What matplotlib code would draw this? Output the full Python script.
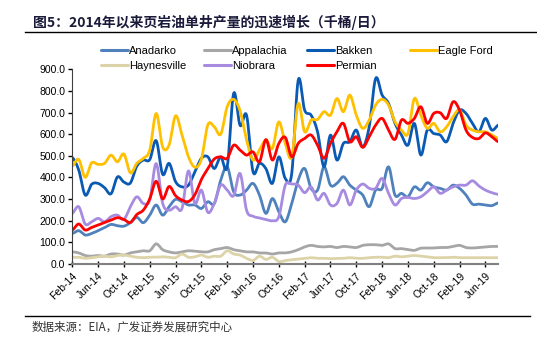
import numpy as np
import matplotlib
matplotlib.use("Agg")
import matplotlib.pyplot as plt
from matplotlib.lines import Line2D

plt.rcParams['font.family'] = ['Liberation Sans', 'Noto Sans CJK SC', 'DejaVu Sans']

# monthly, Feb-14 .. Aug-19 (千桶/日)
anadarko = [140, 153, 133, 140, 153, 167, 182, 176, 174, 190, 215, 190, 225, 272, 225, 264, 298,
            287, 272, 272, 256, 287, 279, 387, 449, 333, 318, 341, 372, 318, 233, 302, 241, 194,
            279, 387, 441, 349, 341, 449, 364, 372, 403, 364, 341, 318, 264, 341, 349, 449, 318,
            326, 310, 356, 341, 375, 356, 349, 341, 364, 349, 318, 276, 276, 272, 269, 282]
appalachia = [55, 50, 38, 35, 38, 35, 45, 45, 40, 50, 55, 60, 60, 92, 65, 55, 50, 55, 60, 58, 55,
              55, 65, 70, 75, 65, 60, 55, 55, 50, 50, 45, 50, 50, 55, 65, 78, 85, 80, 78, 80, 75,
              80, 78, 75, 85, 88, 88, 85, 92, 70, 70, 65, 62, 72, 72, 73, 75, 75, 80, 85, 75, 73,
              75, 78, 80, 80]
bakken = [492, 434, 318, 368, 372, 352, 324, 402, 378, 374, 452, 480, 482, 570, 414, 465, 380,
          356, 364, 426, 488, 495, 441, 495, 449, 789, 640, 688, 426, 465, 440, 372, 495, 395,
          418, 850, 711, 688, 611, 449, 596, 480, 557, 565, 619, 541, 634, 858, 781, 742, 650,
          596, 549, 650, 503, 619, 603, 596, 565, 650, 711, 696, 650, 611, 673, 619, 642]
eagle_ford = [452, 483, 400, 467, 460, 465, 503, 472, 508, 421, 465, 488, 526, 696, 541, 550, 685,
              596, 495, 447, 484, 643, 634, 600, 727, 761, 708, 573, 480, 527, 573, 534, 657, 557,
              495, 742, 611, 665, 668, 704, 688, 765, 704, 781, 688, 627, 665, 735, 761, 735, 657,
              619, 603, 765, 688, 627, 650, 611, 634, 681, 711, 642, 619, 611, 611, 596, 580]
haynesville = [30, 30, 25, 28, 32, 35, 32, 38, 40, 35, 30, 28, 30, 30, 32, 30, 28, 45, 30, 32, 40,
               30, 35, 35, 60, 45, 40, 25, 15, 35, 20, 30, 10, 15, 18, 22, 25, 28, 25, 25, 23, 25,
               25, 28, 25, 25, 28, 30, 30, 28, 35, 32, 35, 38, 35, 32, 28, 28, 28, 30, 28, 28, 28,
               28, 28, 28, 28]
niobrara = [233, 264, 184, 194, 210, 194, 218, 225, 205, 264, 310, 279, 295, 464, 280, 248, 264,
            256, 430, 279, 341, 238, 279, 364, 341, 315, 418, 248, 220, 212, 205, 199, 218, 364,
            369, 364, 329, 356, 295, 326, 272, 279, 341, 272, 341, 369, 349, 349, 395, 326, 272,
            302, 307, 302, 310, 333, 356, 326, 341, 356, 364, 364, 384, 360, 341, 329, 321]
permian = [156, 184, 156, 168, 179, 191, 202, 213, 205, 191, 228, 248, 300, 382, 300, 358, 315,
           295, 288, 320, 390, 440, 485, 495, 488, 549, 526, 503, 518, 472, 575, 480, 557, 585,
           495, 557, 580, 596, 549, 488, 557, 611, 650, 565, 588, 539, 588, 642, 673, 619, 576,
           665, 650, 673, 727, 650, 696, 699, 673, 750, 711, 619, 585, 580, 606, 588, 565]

tick_labels = ['Feb-14', 'Jun-14', 'Oct-14', 'Feb-15', 'Jun-15', 'Oct-15', 'Feb-16', 'Jun-16',
               'Oct-16', 'Feb-17', 'Jun-17', 'Oct-17', 'Feb-18', 'Jun-18', 'Oct-18', 'Feb-19',
               'Jun-19']

series = [
    ('Anadarko', anadarko, '#4F81BD'),
    ('Appalachia', appalachia, '#A6A6A6'),
    ('Bakken', bakken, '#0A5AB4'),
    ('Eagle Ford', eagle_ford, '#FFC000'),
    ('Haynesville', haynesville, '#DDD3A8'),
    ('Niobrara', niobrara, '#A78BE0'),
    ('Permian', permian, '#FF0000'),
]


def smooth(y, n=10):
    # catmull-rom, roughly what excel's "smoothed line" does
    y = np.asarray(y, float)
    p = np.concatenate([[y[0]], y, [y[-1]]])
    t = np.linspace(0, 1, n, endpoint=False)
    xs, ys = [], []
    for i in range(len(y) - 1):
        p0, p1, p2, p3 = p[i], p[i + 1], p[i + 2], p[i + 3]
        v = 0.5 * (2 * p1 + (-p0 + p2) * t + (2 * p0 - 5 * p1 + 4 * p2 - p3) * t ** 2
                   + (-p0 + 3 * p1 - 3 * p2 + p3) * t ** 3)
        xs.append(i + t)
        ys.append(v)
    xs.append([len(y) - 1])
    ys.append([y[-1]])
    return np.concatenate(xs), np.concatenate(ys)


fig = plt.figure(figsize=(5.37, 3.54), dpi=100)
ax = fig.add_axes([0.1346, 0.255, 0.7933, 0.549])

handles = {}
for name, vals, col in series:
    xs, ys = smooth(vals)
    ln, = ax.plot(xs, ys, color=col, lw=2.0, solid_capstyle='round')
    handles[name] = ln

n = len(anadarko)
ax.set_xlim(0, n - 1)
ax.set_ylim(0, 900)
ax.set_yticks(np.arange(0, 901, 100))
ax.set_yticklabels([f'{v:.1f}' for v in range(0, 901, 100)])
ax.set_xticks(np.arange(0, n, 4))
ax.set_xticklabels(tick_labels, rotation=45, ha='right', rotation_mode='anchor')
ax.tick_params(axis='both', labelsize=7.5, colors='#000000', length=3, width=1)
ax.tick_params(axis='y', pad=2)
ax.tick_params(axis='x', direction='inout', length=4, pad=3)
for s in ['top', 'right']:
    ax.spines[s].set_visible(False)
ax.spines['left'].set_color('#404040')
ax.spines['left'].set_linewidth(0.8)
ax.spines['bottom'].set_color('#808080')
ax.spines['bottom'].set_linewidth(1.5)
for t in ax.get_xticklines() + ax.get_yticklines():
    t.set_color('#404040')

# legend: 4 columns x 2 rows
cols = [['Anadarko', 'Haynesville'], ['Appalachia', 'Niobrara'], ['Bakken', 'Permian'], ['Eagle Ford']]
col_x = [101, 204, 307, 410]
for names, xpx in zip(cols, col_x):
    leg = fig.legend([handles[k] for k in names], names, loc='upper left',
                     bbox_to_anchor=(xpx / 537, 1 - 46 / 354), frameon=False, fontsize=8,
                     handlelength=2.4, handletextpad=0.15, labelspacing=0.42,
                     borderaxespad=0, borderpad=0)
    for h in leg.legend_handles:
        h.set_linewidth(2.2)

fig.text(33 / 537, 1 - 22 / 354, '图5：2014年以来页岩油单井产量的迅速增长（千桶/日）',
         fontsize=10, fontweight='heavy', color='#1a1a3a', va='center', ha='left',
         family=['Noto Sans CJK SC', 'DejaVu Sans'])
fig.add_artist(Line2D([25 / 537, 1.0], [1 - 32 / 354] * 2, color='black', lw=1))
fig.add_artist(Line2D([25 / 537, 530 / 537], [1 - 316 / 354] * 2, color='black', lw=1))
fig.text(32 / 537, 1 - 327 / 354, '数据来源：EIA，广发证券发展研究中心', fontsize=8.3,
         color='#333333', va='center', ha='left', family=['Noto Sans CJK SC', 'DejaVu Sans'])

fig.savefig('out.png', dpi=100)
